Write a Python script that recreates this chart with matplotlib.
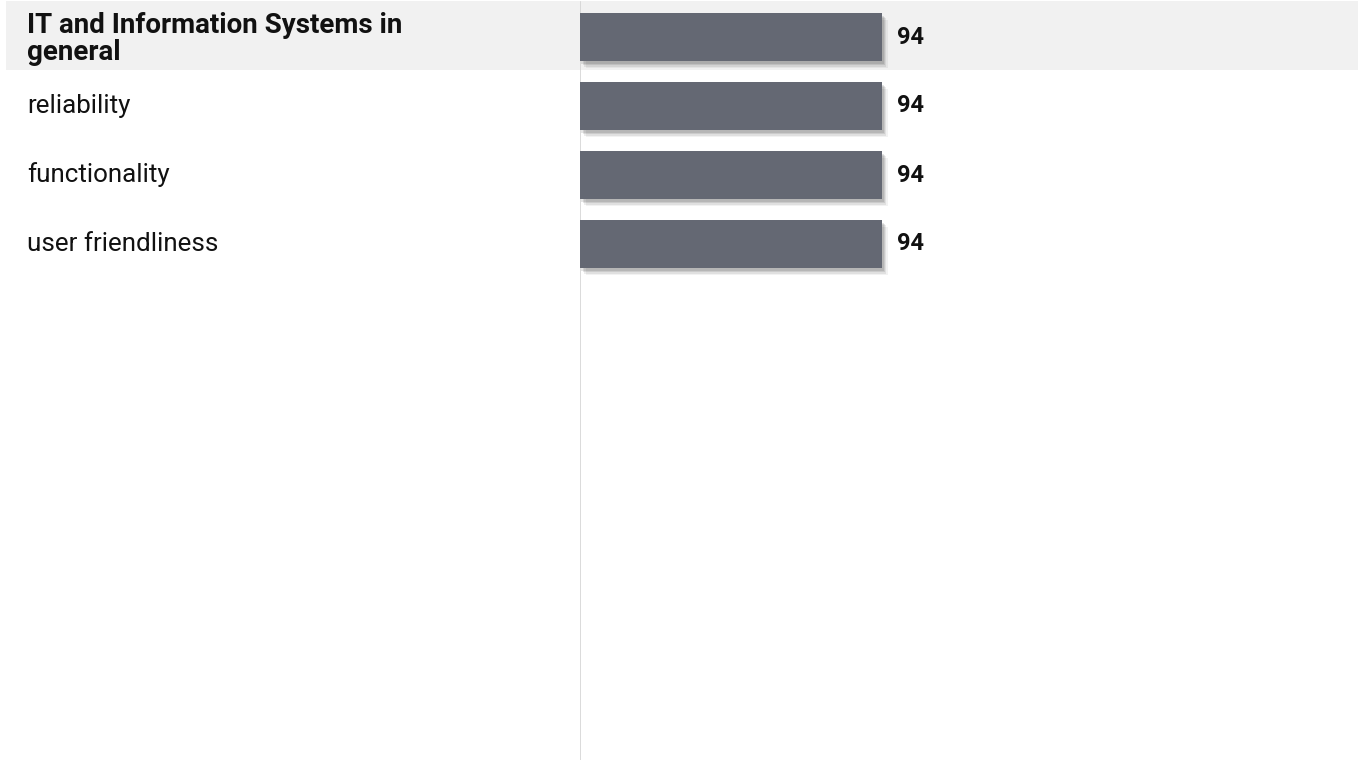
import matplotlib
matplotlib.use("Agg")
import matplotlib.pyplot as plt
import matplotlib.patheffects as pe
from matplotlib.patches import Rectangle
from matplotlib import transforms

# data
categories = ["IT and Information Systems in\ngeneral", "reliability", "functionality", "user friendliness"]
values = [94, 94, 94, 94]
bold_rows = [True, False, False, False]

W, H = 1359, 760
fig = plt.figure(figsize=(W / 100, H / 100), dpi=100)
fig.patch.set_facecolor("white")

row_px = 69.0
top_px = 37.0
ax = fig.add_axes([580 / W, 0, (1358 - 580) / W, 1])
ax.set_facecolor("none")
ax.set_zorder(2)
ax.set_ylim((H - top_px) / row_px, -top_px / row_px)
ax.set_xlim(0, 242)

# grey band behind first (group header) row
for i, b in enumerate(bold_rows):
    if b:
        y0 = H - (top_px + (i + 0.5) * row_px) + 2
        fig.patches.append(Rectangle((6 / W, y0 / H), (1358 - 6) / W, (row_px - 1) / H,
                                     transform=fig.transFigure, facecolor="#f1f1f1",
                                     edgecolor="none", zorder=-1))

shadow = [pe.SimplePatchShadow(offset=(4, -5), shadow_rgbFace="#000000", alpha=0.05),
          pe.SimplePatchShadow(offset=(3, -4), shadow_rgbFace="#000000", alpha=0.07),
          pe.SimplePatchShadow(offset=(2, -3), shadow_rgbFace="#000000", alpha=0.09),
          pe.SimplePatchShadow(offset=(1, -2), shadow_rgbFace="#000000", alpha=0.10),
          pe.Normal()]
ys = list(range(len(categories)))
bars = ax.barh(ys, values, height=0.7, color="#646873", zorder=3)
for b in bars:
    b.set_path_effects(shadow)

ax.axvline(0, ymin=0, ymax=1 - 2 / H, color="#d4d4d4", lw=1.2, zorder=2)

trans = transforms.blended_transform_factory(fig.transFigure, ax.transData)
for y, lab, b in zip(ys, categories, bold_rows):
    ax.text(27 / W, y + (0.03 if b else 0), lab, transform=trans, ha="left", va="center",
            fontsize=20 if b else 18.7, family="Roboto",
            fontweight="bold" if b else "normal",
            color="#111111", linespacing=0.98)

for y, v in zip(ys, values):
    ax.annotate(str(v), (v, y), xytext=(11, 0), textcoords="offset points",
                ha="left", va="center", fontsize=17, fontweight="bold",
                family="Roboto", color="#111111")

for s in ax.spines.values():
    s.set_visible(False)
ax.set_xticks([])
ax.set_yticks([])

fig.savefig("out.png", dpi=100)
